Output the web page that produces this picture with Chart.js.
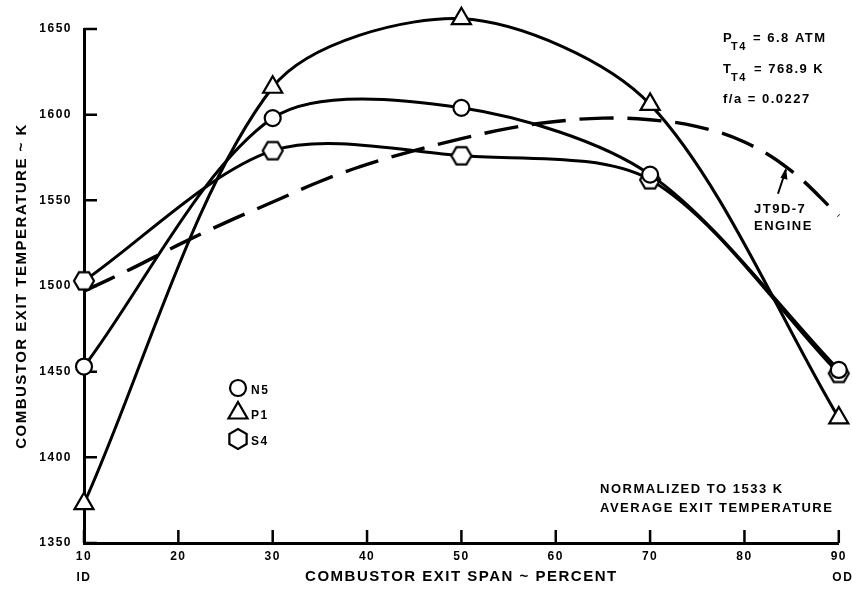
<!DOCTYPE html>
<html>
<head>
<meta charset="utf-8">
<script src="https://cdn.jsdelivr.net/npm/chart.js@4.4.0/dist/chart.umd.min.js"></script>
<style>
html, body { margin: 0; padding: 0; background: #fff; }
</style>
</head>
<body>
<canvas id="chart" width="852" height="594"></canvas>
<script>
// values
var spanTicks = [10, 20, 30, 40, 50, 60, 70, 80, 90];
var tempTicks = [1350, 1400, 1450, 1500, 1550, 1600, 1650];
var configSpan = [10, 30, 50, 70, 90];
var n5Temp = [1453, 1598, 1604, 1565, 1451];
var p1Temp = [1373, 1616, 1656, 1606, 1423];
var s4Temp = [1503, 1579, 1576, 1562, 1449];
var engineSpan = [10, 15, 20, 25, 30, 35, 40, 45, 50, 55, 60, 65, 70, 75, 80, 85, 90];
var engineTemp = [1497, 1510, 1524, 1537, 1549, 1561, 1571, 1579, 1586, 1592, 1596, 1598, 1597, 1593, 1584, 1567, 1541];

var FONT = "'Liberation Sans', Arial, sans-serif";

function toPoints(xs, ys) {
    var pts = [];
    for (var i = 0; i < xs.length; i++) pts.push({ x: xs[i], y: ys[i] });
    return pts;
}

function makeHexagon(r) {
    var c = document.createElement("canvas");
    var size = Math.ceil(2 * r + 4);
    c.width = size;
    c.height = size;
    var g = c.getContext("2d");
    g.beginPath();
    for (var i = 0; i < 6; i++) {
        var a = Math.PI / 3 * i;
        var px = size / 2 + r * Math.cos(a);
        var py = size / 2 + r * Math.sin(a);
        if (i == 0) g.moveTo(px, py); else g.lineTo(px, py);
    }
    g.closePath();
    g.fillStyle = "#fff";
    g.fill();
    g.lineWidth = 2.2;
    g.strokeStyle = "#000";
    g.stroke();
    return c;
}

var hexagon = makeHexagon(10);

function series(label, data, style, radius) {
    return {
        label: label,
        data: data,
        borderColor: "#000",
        borderWidth: 3,
        pointStyle: style,
        pointRadius: radius,
        pointBorderWidth: 2.2,
        pointBackgroundColor: "#fff",
        pointBorderColor: "#000",
        tension: 0.3,
        fill: false,
        clip: false
    };
}

var notesPlugin = {
    id: "notes",
    beforeDraw: function (chart) {
        chart.ctx.letterSpacing = "1.5px";
    },
    beforeDatasetsDraw: function (chart) {
        var ctx = chart.ctx;
        var area = chart.chartArea;
        var xs = chart.scales.x, ys = chart.scales.y;
        ctx.save();
        ctx.strokeStyle = "#000";
        ctx.lineWidth = 2.5;
        ctx.beginPath();
        for (var i = 0; i < tempTicks.length; i++) {
            var y = ys.getPixelForValue(tempTicks[i]);
            ctx.moveTo(area.left, y);
            ctx.lineTo(area.left + 13, y);
        }
        for (var j = 0; j < spanTicks.length; j++) {
            var x = xs.getPixelForValue(spanTicks[j]);
            ctx.moveTo(x, area.bottom);
            ctx.lineTo(x, area.bottom - 13);
        }
        ctx.stroke();
        ctx.restore();
    },
    afterDraw: function (chart) {
        var ctx = chart.ctx;
        var xs = chart.scales.x, ys = chart.scales.y;
        ctx.save();
        ctx.letterSpacing = "1.5px";
        ctx.fillStyle = "#000";
        ctx.strokeStyle = "#000";
        ctx.textBaseline = "alphabetic";
        ctx.textAlign = "left";

        // ID / OD under the span ends
        ctx.font = "bold 12px " + FONT;
        ctx.textAlign = "center";
        ctx.fillText("ID", xs.getPixelForValue(10), 581);
        ctx.fillText("OD", xs.getPixelForValue(90) + 4, 581);
        ctx.textAlign = "left";

        // test conditions
        var big = "bold 13px " + FONT, sub = "bold 11px " + FONT;
        ctx.font = big; ctx.fillText("P", 723, 42);
        ctx.font = sub; ctx.fillText("T4", 731, 50);
        ctx.font = big; ctx.fillText("= 6.8 ATM", 753, 42);
        ctx.font = big; ctx.fillText("T", 723, 73);
        ctx.font = sub; ctx.fillText("T4", 731, 81);
        ctx.font = big; ctx.fillText("= 768.9 K", 754, 73);
        ctx.font = big; ctx.fillText("f/a = 0.0227", 723, 103);

        ctx.fillText("JT9D-7", 754, 213);
        ctx.fillText("ENGINE", 754, 230);

        ctx.fillText("NORMALIZED TO 1533 K", 600, 493);
        ctx.fillText("AVERAGE EXIT TEMPERATURE", 600, 512);

        // arrow to the engine curve
        var tipX = xs.getPixelForValue(84.4), tipY = ys.getPixelForValue(1569);
        ctx.lineWidth = 2;
        ctx.beginPath();
        ctx.moveTo(tipX - 8, tipY + 26);
        ctx.lineTo(tipX, tipY + 2);
        ctx.stroke();
        ctx.beginPath();
        ctx.moveTo(tipX, tipY);
        ctx.lineTo(tipX - 5.5, tipY + 10);
        ctx.lineTo(tipX + 1.5, tipY + 12);
        ctx.closePath();
        ctx.fill();

        // key
        var keys = [
            { text: "N5", style: "circle", radius: 8, rot: 0, y: 388 },
            { text: "P1", style: "triangle", radius: 11, rot: 0, y: 413 },
            { text: "S4", style: hexagon, radius: 10, rot: 90, y: 439 }
        ];
        ctx.font = "bold 12px " + FONT;
        for (var k = 0; k < keys.length; k++) {
            ctx.fillStyle = "#fff";
            ctx.strokeStyle = "#000";
            ctx.lineWidth = 2.2;
            Chart.helpers.drawPoint(ctx, { pointStyle: keys[k].style, radius: keys[k].radius, borderWidth: 2.2, rotation: keys[k].rot }, 238, keys[k].y);
            ctx.fillStyle = "#000";
            ctx.fillText(keys[k].text, 251, keys[k].y + 6);
        }
        ctx.restore();
    }
};

var ctx = document.getElementById("chart").getContext("2d");
var chart = new Chart(ctx, {
    type: "line",
    data: {
        datasets: [
            series("N5", toPoints(configSpan, n5Temp), "circle", 8),
            series("P1", toPoints(configSpan, p1Temp), "triangle", 11),
            series("S4", toPoints(configSpan, s4Temp), hexagon, 10),
            {
                label: "JT9D-7 ENGINE",
                data: toPoints(engineSpan, engineTemp),
                borderColor: "#000",
                borderWidth: 3.4,
                borderDash: [34, 14],
                pointRadius: 0,
                tension: 0.4,
                fill: false,
                clip: false
            }
        ]
    },
    options: {
        responsive: false,
        animation: false,
        events: [],
        layout: {
            padding: { top: 29, right: 9, left: 0, bottom: 0 }
        },
        plugins: {
            legend: { display: false },
            tooltip: { enabled: false }
        },
        scales: {
            x: {
                type: "linear",
                min: 10,
                max: 90,
                afterFit: function (scale) { scale.height = 51; },
                grid: { display: false, drawTicks: false },
                border: { display: true, color: "#000", width: 3 },
                ticks: {
                    stepSize: 10,
                    autoSkip: false,
                    maxRotation: 0,
                    padding: 6,
                    color: "#000",
                    font: { family: FONT, size: 12, weight: "bold" }
                },
                title: {
                    display: true,
                    text: "COMBUSTOR EXIT SPAN ~ PERCENT",
                    color: "#000",
                    padding: { top: 0, bottom: 8 },
                    font: { family: FONT, size: 15, weight: "bold" }
                }
            },
            y: {
                min: 1350,
                max: 1650,
                afterFit: function (scale) { scale.width = 84; },
                grid: { display: false, drawTicks: false },
                border: { display: true, color: "#000", width: 3 },
                ticks: {
                    stepSize: 50,
                    padding: 12,
                    color: "#000",
                    font: { family: FONT, size: 12, weight: "bold" },
                    callback: function (value) { return String(value); }
                },
                title: {
                    display: true,
                    text: "COMBUSTOR EXIT TEMPERATURE ~ K",
                    color: "#000",
                    padding: { top: 13, bottom: 0 },
                    font: { family: FONT, size: 15, weight: "bold" }
                }
            }
        }
    },
    plugins: [notesPlugin]
});
</script>
</body>
</html>
